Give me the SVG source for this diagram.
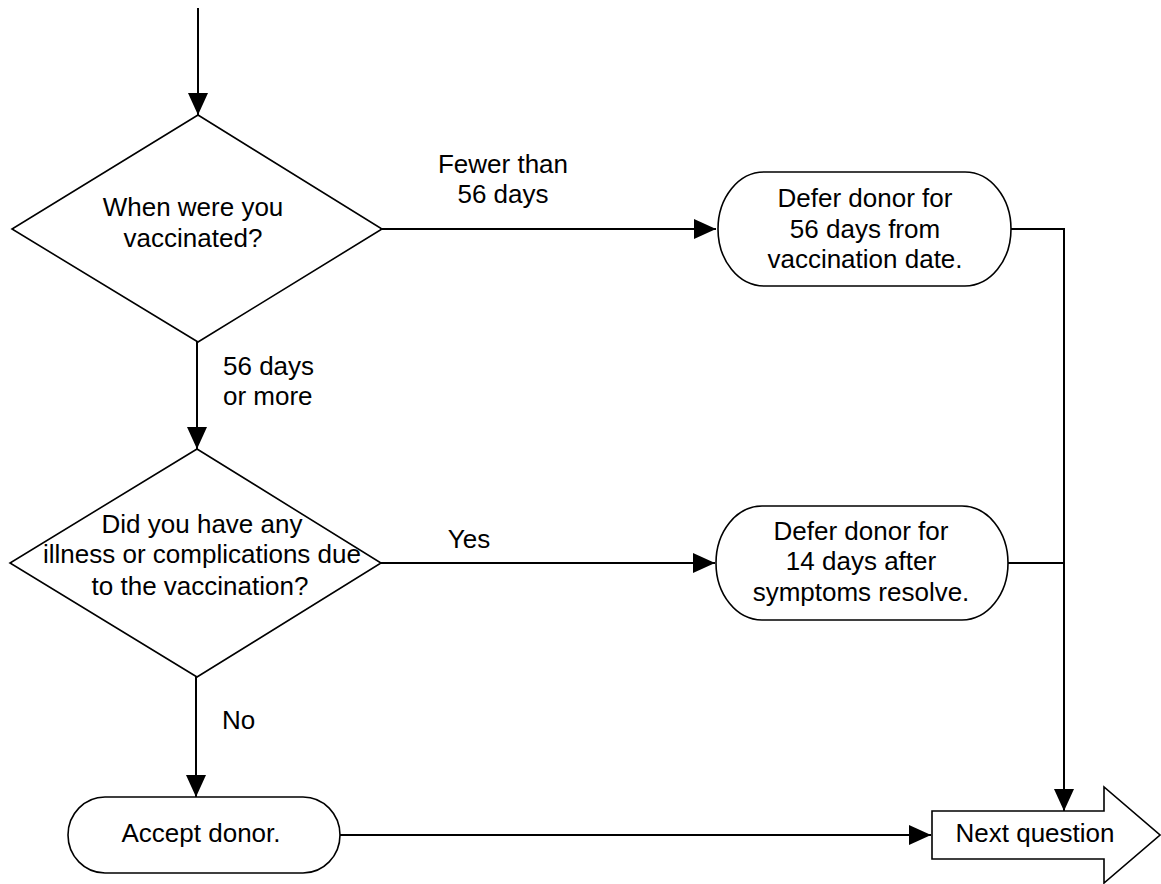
<svg xmlns="http://www.w3.org/2000/svg" width="1161" height="884" viewBox="0 0 1161 884">
<defs>
<marker id="arr" markerWidth="22" markerHeight="20" refX="22" refY="10" orient="auto" markerUnits="userSpaceOnUse">
<path d="M0,0 L22,10 L0,20 Z" fill="#000"/>
</marker>
<style>
.shape{fill:#fff;stroke:#000;stroke-width:1.6}
.conn{fill:none;stroke:#000;stroke-width:2}
text{font-family:"Liberation Sans",Arial,sans-serif;font-size:26px;fill:#000}
.c{text-anchor:middle}
</style>
</defs>
<rect width="1161" height="884" fill="#fff"/>
<g id="connectors">
<path class="conn" d="M198,8 V115" marker-end="url(#arr)"/>
<path class="conn" d="M382,229 H716" marker-end="url(#arr)"/>
<path class="conn" d="M197,342 V449" marker-end="url(#arr)"/>
<path class="conn" d="M381,563 H715" marker-end="url(#arr)"/>
<path class="conn" d="M196,677 V797" marker-end="url(#arr)"/>
<path class="conn" d="M340,835 H931" marker-end="url(#arr)"/>
<path class="conn" d="M1011,229 H1064 V811" marker-end="url(#arr)"/>
<path class="conn" d="M1008,563 H1064"/>
<text class="c" x="503" y="173">Fewer than</text>
<text class="c" x="503" y="203">56 days</text>
<text x="223" y="375">56 days</text>
<text x="223" y="405">or more</text>
<text class="c" x="469" y="548">Yes</text>
<text x="222" y="729">No</text>
</g>
<g id="q1">
<polygon class="shape" points="198,115 382,229 198,342 12,229"/>
<text class="c" x="193" y="216">When were you</text>
<text class="c" x="193" y="247">vaccinated?</text>
</g>
<g id="defer56">
<rect class="shape" x="718" y="172" width="293" height="114" rx="46" ry="57"/>
<text class="c" x="865" y="207">Defer donor for</text>
<text class="c" x="865" y="238">56 days from</text>
<text class="c" x="865" y="268">vaccination date.</text>
</g>
<g id="q2">
<polygon class="shape" points="197,449 381,563 197,677 10,563"/>
<text class="c" x="202" y="533">Did you have any</text>
<text class="c" x="202" y="563">illness or complications due</text>
<text class="c" x="200" y="595">to the vaccination?</text>
</g>
<g id="defer14">
<rect class="shape" x="716" y="506" width="292" height="114" rx="46" ry="57"/>
<text class="c" x="861" y="540">Defer donor for</text>
<text class="c" x="861" y="570">14 days after</text>
<text class="c" x="861" y="601">symptoms resolve.</text>
</g>
<g id="accept">
<rect class="shape" x="68" y="797" width="272" height="76" rx="37" ry="38"/>
<text class="c" x="201" y="842">Accept donor.</text>
</g>
<g id="next">
<polygon class="shape" points="932,811 1104,811 1104,787 1160,835 1104,883 1104,859 932,859"/>
<text class="c" x="1035" y="842">Next question</text>
</g>
</svg>
